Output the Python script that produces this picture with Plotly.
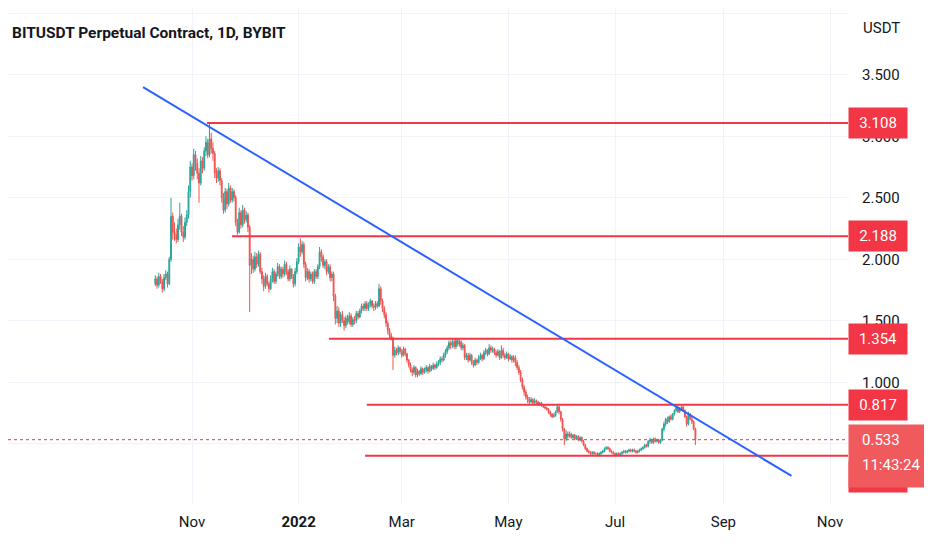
import pandas as pd
import plotly.graph_objects as go

# daily candles, BITUSDT perpetual (Bybit)
start_day = "2021-10-11"
first_open = 1.80

closes = [
    1.84, 1.79, 1.86, 1.82, 1.76, 1.85, 1.88, 1.80,
    2.00, 2.35, 2.22,
    2.20, 2.16, 2.28, 2.35, 2.22, 2.18, 2.30, 2.36,
    2.55, 2.75, 2.68, 2.85, 2.78,
    2.70, 2.62, 2.80, 2.74, 2.88,
    2.95, 2.85, 2.98, 2.90, 2.86,
    2.70, 2.66, 2.72, 2.64,
    2.50, 2.40, 2.55, 2.45,
    2.58, 2.48, 2.55, 2.50,
    2.30, 2.22, 2.38, 2.28, 2.40,
    2.32, 2.36, 2.26,
    1.95,
    2.00, 1.92, 2.02, 1.96, 2.04, 1.90, 1.84, 1.78, 1.86, 1.80, 1.76, 1.84, 1.90, 1.82,
    1.88, 1.94, 1.86, 1.92, 1.88, 1.96, 1.90, 1.84, 1.92, 1.86, 1.80, 1.90, 1.98,
    2.10, 2.06, 2.12, 1.96,
    1.85, 1.90, 1.84, 1.88, 1.82, 1.90, 1.86, 1.94,
    2.06, 2.02, 1.95,
    1.98, 1.90, 1.94, 1.85, 1.88, 1.70,
    1.52, 1.58,
    1.48, 1.55, 1.50, 1.46, 1.52, 1.49, 1.54, 1.47, 1.51, 1.50, 1.56, 1.53,
    1.58, 1.62, 1.60, 1.64, 1.60, 1.63, 1.66, 1.62, 1.61, 1.64, 1.62,
    1.76,
    1.66, 1.60, 1.55, 1.48, 1.42, 1.38,
    1.36,
    1.22,
    1.26, 1.24, 1.28, 1.25, 1.22, 1.27, 1.23, 1.18,
    1.14, 1.10, 1.08, 1.12, 1.06, 1.09, 1.07, 1.11, 1.08, 1.10, 1.12, 1.09, 1.13, 1.11,
    1.14, 1.12, 1.15,
    1.16, 1.19, 1.18, 1.22, 1.25, 1.28, 1.32, 1.30,
    1.33, 1.29, 1.34, 1.31, 1.33, 1.28, 1.30,
    1.20, 1.22, 1.18, 1.22, 1.16, 1.14,
    1.18, 1.16, 1.20, 1.22, 1.19, 1.24, 1.26, 1.23,
    1.28, 1.26, 1.27,
    1.24, 1.22, 1.25, 1.20, 1.26, 1.22, 1.20, 1.23, 1.19, 1.21, 1.18, 1.20,
    1.16, 1.12, 1.08, 1.02,
    0.96, 0.92, 0.88, 0.86,
    0.84, 0.86, 0.83, 0.85, 0.84, 0.82, 0.83,
    0.81, 0.80, 0.79, 0.78, 0.76, 0.74, 0.72, 0.73,
    0.76, 0.80,
    0.76, 0.70,
    0.62, 0.54, 0.58, 0.56,
    0.58, 0.55, 0.57, 0.54, 0.56, 0.53, 0.55, 0.52,
    0.49, 0.46, 0.44, 0.43, 0.42, 0.43, 0.42,
    0.42, 0.41, 0.42, 0.43, 0.44,
    0.46, 0.47, 0.46, 0.44,
    0.43, 0.42, 0.41, 0.42, 0.41, 0.42,
    0.43, 0.44, 0.43, 0.44, 0.45, 0.44, 0.45, 0.44, 0.43, 0.44, 0.45,
    0.46, 0.47, 0.49, 0.48,
    0.52, 0.53, 0.51, 0.54, 0.52, 0.53, 0.51, 0.53,
    0.62, 0.66, 0.70,
    0.68, 0.72, 0.70, 0.74,
    0.77, 0.79, 0.76, 0.78, 0.80, 0.77,
    0.72, 0.66, 0.74,
    0.70, 0.68, 0.62,
    0.533,
]

highs = [
    1.87, 1.86, 1.89, 1.88, 1.84, 1.88, 1.91, 1.90,
    2.02, 2.50, 2.38,
    2.30, 2.25, 2.33, 2.46, 2.37, 2.27, 2.34, 2.40,
    2.60, 2.80, 2.78, 2.90, 2.88,
    2.82, 2.74, 2.84, 2.83, 2.91,
    3.00, 2.98, 3.108, 3.03, 2.95,
    2.88, 2.74, 2.75, 2.74,
    2.66, 2.54, 2.58, 2.57,
    2.62, 2.60, 2.58, 2.57,
    2.52, 2.33, 2.42, 2.40, 2.44,
    2.42, 2.39, 2.38,
    2.28,
    2.05, 2.03, 2.06, 2.05, 2.07, 2.06, 1.93, 1.87, 1.89, 1.88, 1.82, 1.87, 1.93, 1.92,
    1.90, 1.97, 1.96, 1.94, 1.94, 1.99, 1.98, 1.92, 1.95, 1.93, 1.88, 1.93, 2.01,
    2.13, 2.17, 2.15, 2.14,
    1.98, 1.93, 1.92, 1.90, 1.90, 1.92, 1.92, 1.96,
    2.10, 2.08, 2.04,
    2.00, 2.00, 1.96, 1.96, 1.90, 1.90,
    1.72, 1.62,
    1.61, 1.57, 1.58, 1.53, 1.54, 1.55, 1.57, 1.56, 1.53, 1.54, 1.58, 1.58,
    1.60, 1.64, 1.64, 1.66, 1.66, 1.65, 1.68, 1.67, 1.64, 1.66, 1.66,
    1.80,
    1.78, 1.68, 1.62, 1.57, 1.50, 1.44,
    1.40,
    1.37,
    1.29, 1.28, 1.30, 1.29, 1.27, 1.29, 1.28, 1.24,
    1.19, 1.16, 1.12, 1.14, 1.13, 1.11, 1.10, 1.13, 1.12, 1.12, 1.14, 1.13, 1.15, 1.14,
    1.16, 1.15, 1.17,
    1.18, 1.21, 1.21, 1.24, 1.27, 1.30, 1.34, 1.34,
    1.35, 1.35, 1.36, 1.36, 1.35, 1.34, 1.32,
    1.31, 1.24, 1.24, 1.24, 1.23, 1.18,
    1.20, 1.19, 1.22, 1.24, 1.23, 1.26, 1.28, 1.27,
    1.31, 1.30, 1.29,
    1.28, 1.26, 1.27, 1.26, 1.30, 1.28, 1.24, 1.25, 1.24, 1.23, 1.22, 1.22,
    1.22, 1.18, 1.14, 1.10,
    1.04, 0.98, 0.94, 0.90,
    0.88, 0.88, 0.87, 0.87, 0.86, 0.85, 0.84,
    0.84, 0.82, 0.81, 0.80, 0.79, 0.77, 0.75, 0.75,
    0.77, 0.82,
    0.81, 0.77,
    0.71, 0.63, 0.61, 0.60,
    0.60, 0.59, 0.58, 0.58, 0.57, 0.57, 0.56, 0.56,
    0.53, 0.50, 0.47, 0.45, 0.44, 0.44, 0.44,
    0.43, 0.43, 0.43, 0.44, 0.45,
    0.47, 0.48, 0.48, 0.47,
    0.45, 0.44, 0.43, 0.43, 0.43, 0.43,
    0.44, 0.45, 0.45, 0.45, 0.46, 0.46, 0.46, 0.46, 0.45, 0.45, 0.46,
    0.47, 0.48, 0.50, 0.50,
    0.53, 0.55, 0.54, 0.55, 0.55, 0.54, 0.54, 0.54,
    0.63, 0.68, 0.71,
    0.72, 0.73, 0.74, 0.75,
    0.78, 0.80, 0.817, 0.80, 0.81, 0.81,
    0.78, 0.73, 0.76,
    0.75, 0.72, 0.69,
    0.63,
]

lows = [
    1.78, 1.76, 1.77, 1.80, 1.73, 1.74, 1.83, 1.77,
    1.79, 1.98, 2.16,
    2.15, 2.13, 2.14, 2.24, 2.19, 2.14, 2.16, 2.27,
    2.33, 2.50, 2.64, 2.65, 2.72,
    2.65, 2.46, 2.60, 2.70, 2.72,
    2.84, 2.82, 2.83, 2.86, 2.80,
    2.66, 2.62, 2.63, 2.60,
    2.46, 2.37, 2.38, 2.41,
    2.43, 2.46, 2.46, 2.47,
    2.27, 2.20, 2.21, 2.25, 2.26,
    2.29, 2.30, 2.22,
    1.57,
    1.88, 1.89, 1.90, 1.93, 1.94, 1.88, 1.80, 1.74, 1.76, 1.78, 1.73, 1.75, 1.81, 1.80,
    1.80, 1.86, 1.84, 1.84, 1.85, 1.86, 1.87, 1.82, 1.82, 1.84, 1.77, 1.78, 1.88,
    1.96, 2.02, 2.04, 1.93,
    1.82, 1.83, 1.81, 1.82, 1.80, 1.80, 1.84, 1.84,
    1.92, 1.98, 1.93,
    1.92, 1.87, 1.88, 1.82, 1.82, 1.66,
    1.47, 1.48,
    1.45, 1.45, 1.48, 1.42, 1.44, 1.47, 1.47, 1.45, 1.45, 1.47, 1.48, 1.51,
    1.52, 1.56, 1.58, 1.58, 1.58, 1.58, 1.61, 1.60, 1.58, 1.59, 1.60,
    1.61,
    1.63, 1.57, 1.52, 1.45, 1.39, 1.36,
    1.34,
    1.10,
    1.20, 1.22, 1.22, 1.23, 1.20, 1.21, 1.21, 1.16,
    1.12, 1.08, 1.05, 1.06, 1.04, 1.04, 1.05, 1.06, 1.06, 1.07, 1.08, 1.07, 1.08, 1.09,
    1.10, 1.10, 1.11,
    1.13, 1.14, 1.16, 1.17, 1.20, 1.23, 1.26, 1.27,
    1.28, 1.27, 1.27, 1.29, 1.29, 1.26, 1.26,
    1.18, 1.18, 1.16, 1.17, 1.14, 1.12,
    1.13, 1.14, 1.15, 1.18, 1.17, 1.18, 1.22, 1.21,
    1.22, 1.24, 1.24,
    1.22, 1.20, 1.21, 1.18, 1.19, 1.20, 1.18, 1.19, 1.17, 1.18, 1.16, 1.16,
    1.13, 1.10, 1.06, 1.00,
    0.94, 0.89, 0.86, 0.83,
    0.82, 0.83, 0.82, 0.82, 0.82, 0.81, 0.81,
    0.80, 0.79, 0.78, 0.77, 0.74, 0.72, 0.71, 0.71,
    0.72, 0.75,
    0.74, 0.68,
    0.60, 0.49, 0.52, 0.54,
    0.55, 0.54, 0.54, 0.53, 0.53, 0.52, 0.52, 0.51,
    0.48, 0.45, 0.43, 0.42, 0.41, 0.41, 0.41,
    0.41, 0.40, 0.40, 0.41, 0.42,
    0.43, 0.45, 0.45, 0.43,
    0.42, 0.41, 0.40, 0.40, 0.40, 0.40,
    0.41, 0.42, 0.42, 0.42, 0.43, 0.43, 0.43, 0.43, 0.42, 0.42, 0.43,
    0.44, 0.45, 0.46, 0.47,
    0.47, 0.50, 0.50, 0.50, 0.51, 0.51, 0.50, 0.50,
    0.52, 0.60, 0.64,
    0.66, 0.67, 0.69, 0.69,
    0.73, 0.76, 0.75, 0.75, 0.77, 0.76,
    0.71, 0.64, 0.65,
    0.69, 0.66, 0.61,
    0.49,
]

# horizontal levels drawn on the chart and the day each one starts
levels = [3.108, 2.188, 1.354, 0.817, 0.403]
level_starts = ["2021-11-09 14:00", "2021-11-23 22:00", "2022-01-18 10:00",
                "2022-02-09 00:00", "2022-02-08 00:00"]

# descending trend line
trend_x = ["2021-10-04", "2022-10-10"]
trend_y = [3.40, 0.238]

last_price = 0.533
countdown = "11:43:24"

x_ticks = ["2021-11-01", "2022-01-01", "2022-03-01", "2022-05-01",
           "2022-07-01", "2022-09-01", "2022-11-01"]
x_labels = ["Nov", "<b>2022</b>", "Mar", "May", "Jul", "Sep", "Nov"]
y_ticks = [0.5, 1.0, 1.5, 2.0, 2.5, 3.0, 3.5, 4.0]
y_labels = ["", "1.000", "1.500", "2.000", "2.500", "3.000", "3.500", ""]

x_range = ["2021-07-18 17:30", "2022-11-11 07:10"]
y_range = [0.002, 4.043]

RED = "#f23645"
GREEN = "#26a69a"
CANDLE_RED = "#ef5350"
BLUE = "#2962ff"
GRID = "#f0f3fa"
TEXT = "#131722"
FONT = "Roboto, sans-serif"
FS = 15

dates = pd.date_range(start_day, periods=len(closes), freq="D")
opens = [first_open] + closes[:-1]
hi = [max(h, o, c) for h, o, c in zip(highs, opens, closes)]
lo = [min(l, o, c) for l, o, c in zip(lows, opens, closes)]

fig = go.Figure()
fig.add_trace(go.Candlestick(
    x=dates, open=opens, high=hi, low=lo, close=closes,
    increasing=dict(line=dict(color=GREEN, width=1), fillcolor=GREEN),
    decreasing=dict(line=dict(color=CANDLE_RED, width=1), fillcolor=CANDLE_RED),
    whiskerwidth=0, showlegend=False, hoverinfo="skip",
))

shapes = []
# last price dotted line
shapes.append(dict(type="line", xref="x", yref="y", x0=x_range[0], x1=x_range[1],
                   y0=last_price, y1=last_price,
                   line=dict(color=RED, width=1, dash="dot")))
for lv, st in zip(levels, level_starts):
    shapes.append(dict(type="line", xref="x", yref="y", x0=st, x1=x_range[1],
                       y0=lv, y1=lv, line=dict(color=RED, width=2)))
shapes.append(dict(type="line", xref="x", yref="y", x0=trend_x[0], x1=trend_x[1],
                   y0=trend_y[0], y1=trend_y[1], line=dict(color=BLUE, width=2)))

annotations = []
annotations.append(dict(text="<b>BITUSDT Perpetual Contract, 1D, BYBIT</b>",
                        xref="paper", yref="paper", x=2 / 840, y=0.950,
                        xanchor="left", yanchor="middle", showarrow=False,
                        font=dict(family=FONT, size=15.5, color=TEXT)))
annotations.append(dict(text="USDT", xref="paper", yref="paper", x=1, y=0.960,
                        xanchor="left", yanchor="middle", xshift=13, showarrow=False,
                        font=dict(family=FONT, size=FS, color=TEXT)))

# price labels on the axis
for i, lv in enumerate(levels):
    shift = -21 if i == len(levels) - 1 else 0
    annotations.append(dict(text=f"{lv:.3f}", xref="paper", yref="y", x=1, y=lv,
                            xanchor="left", yanchor="middle", yshift=shift,
                            showarrow=False, bgcolor=RED, borderpad=4,
                            width=50, height=22,
                            font=dict(family=FONT, size=FS, color="white")))
annotations.append(dict(text=" ", xref="paper", yref="y", x=1, y=last_price,
                        xanchor="left", yanchor="top", yshift=16, showarrow=False,
                        bgcolor="#f05a5c", borderpad=4, width=70, height=54))
annotations.append(dict(text=f"{last_price:.3f}", xref="paper", yref="y", x=1,
                        y=last_price, xanchor="left", yanchor="middle", xshift=12,
                        showarrow=False,
                        font=dict(family=FONT, size=FS, color="white")))
annotations.append(dict(text=countdown, xref="paper", yref="y", x=1,
                        y=last_price, xanchor="left", yanchor="middle", xshift=12,
                        yshift=-25, showarrow=False,
                        font=dict(family=FONT, size=FS, color="white")))

# page body adds an 8px offset, so the figure is 8px smaller each way
fig.update_layout(
    width=924, height=542,
    margin=dict(l=0, r=84, t=0, b=45),
    paper_bgcolor="white", plot_bgcolor="white",
    font=dict(family=FONT, size=FS, color=TEXT),
    shapes=shapes, annotations=annotations,
    xaxis=dict(range=x_range, tickvals=x_ticks, ticktext=x_labels,
               showgrid=True, gridcolor=GRID, zeroline=False,
               ticks="outside", ticklen=3, tickcolor="rgba(0,0,0,0)",
               rangeslider=dict(visible=False), fixedrange=True),
    yaxis=dict(range=y_range, side="right", tickvals=y_ticks, ticktext=y_labels,
               showgrid=True, gridcolor=GRID, zeroline=False,
               ticks="outside", ticklen=10, tickcolor="rgba(0,0,0,0)",
               fixedrange=True),
)

fig.write_html("out.html")
